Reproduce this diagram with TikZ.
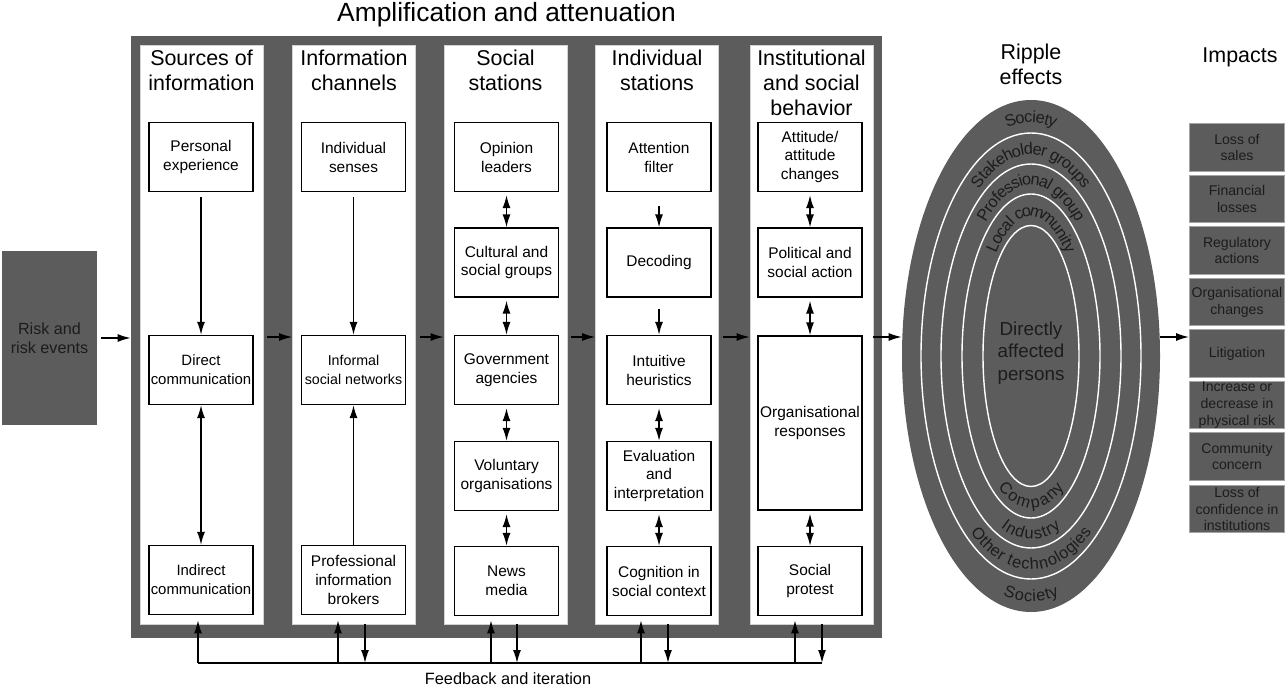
\documentclass[tikz,border=0pt]{standalone}
\usepackage{fontspec}
\setmainfont{Liberation Sans}
\usepackage{tikz}
\usetikzlibrary{arrows.meta,shapes.geometric,decorations.text}
\definecolor{ragray}{RGB}{92,92,92}
\definecolor{ratext}{RGB}{28,28,28}
\definecolor{raedge}{RGB}{165,165,165}
\tikzstyle{arrow} = [line width=0.8pt,-{Latex[length=2.6mm,width=1.6mm]}]
\tikzstyle{twoway} = [line width=0.8pt,{Latex[length=2.6mm,width=1.6mm]}-{Latex[length=2.6mm,width=1.6mm]}]
\newcommand{\ringfont}{\fontsize{9.3}{11}\selectfont}

\begin{document}
\begin{tikzpicture}[x=0.2mm, y=-0.2mm,
    column/.style={rectangle, fill=white, draw=gray!35, line width=0.4pt, minimum width=24.6mm, minimum height=115.8mm, inner sep=0pt},
    header/.style={anchor=north, align=center, inner sep=0pt, font=\fontsize{12.2}{14.2}\selectfont},
    stage/.style={rectangle, draw, fill=white, line width=0.75pt, minimum width=20.8mm, minimum height=13.8mm, inner sep=0pt, align=center, font=\fontsize{8.8}{10.8}\selectfont},
    impact/.style={rectangle, draw=raedge, fill=ragray, line width=0.5pt, minimum width=19mm, minimum height=9.5mm, inner sep=0pt, align=center, text=ratext, font=\fontsize{8}{9.6}\selectfont},
    ring/.style={white, line width=0.8pt},
    ringlabel/.style={decorate, decoration={text along path, text align=center, raise=-0.35em, text color=ratext}}]

\useasboundingbox (0,0) rectangle (1287,688);

% Title
\node[font=\fontsize{15}{18}\selectfont] (title) at (506.5,15) {Amplification and attenuation};

% Risk events
\node[rectangle, fill=ragray, minimum width=19mm, minimum height=34.8mm, align=center, text=ratext, font=\fontsize{9.2}{10.8}\selectfont] (risk) at (49.5,338) {Risk and\\risk events};

% Amplification frame and columns
\node[rectangle, fill=ragray, minimum width=150.2mm, minimum height=120.4mm, inner sep=0pt] (amp) at (506.5,337) {};
\node[column] (c1) at (201.5,334.5) {};
\node[column] (c2) at (354,334.5) {};
\node[column] (c3) at (505.5,334.5) {};
\node[column] (c4) at (657,334.5) {};
\node[column] (c5) at (811.5,334.5) {};

\node[header] (h1) at (201.5,50) {Sources of\\information};
\node[header] (h2) at (354,50) {Information\\channels};
\node[header] (h3) at (505.5,50) {Social\\stations};
\node[header] (h4) at (657,50) {Individual\\stations};
\node[header] (h5) at (811.5,50) {Institutional\\and social\\behavior};

% Sources of information
\node[stage] (pers) at (201,157) {Personal\\experience};
\node[stage, font=\fontsize{8.5}{10.8}\selectfont] (direct) at (201,370) {Direct\\communication};
\node[stage, font=\fontsize{8.5}{10.8}\selectfont] (indirect) at (201,580) {Indirect\\communication};

% Information channels
\node[stage] (senses) at (353.5,157) {Individual\\senses};
\node[stage, font=\fontsize{8.1}{10.8}\selectfont] (informal) at (353.5,370) {Informal\\social networks};
\node[stage] (brokers) at (353.5,580) {Professional\\information\\brokers};

% Social stations
\node[stage] (opinion) at (506.5,157) {Opinion\\leaders};
\node[stage] (cultural) at (506.5,262.5) {Cultural and\\social groups};
\node[stage] (govt) at (506.5,370) {Government\\agencies};
\node[stage] (voluntary) at (506.5,476) {Voluntary\\organisations};
\node[stage] (news) at (506.5,581) {News\\media};

% Individual stations
\node[stage] (attention) at (659,157) {Attention\\filter};
\node[stage] (decoding) at (659,262.5) {Decoding};
\node[stage] (intuitive) at (659,370) {Intuitive\\heuristics};
\node[stage] (evaluation) at (659,476) {Evaluation\\and\\interpretation};
\node[stage] (cognition) at (659,581) {Cognition in\\social context};

% Institutional and social behavior
\node[stage] (attitude) at (810,157) {Attitude/\\attitude\\changes};
\node[stage] (political) at (810,262.5) {Political and\\social action};
\node[stage, minimum height=34.8mm] (orgresp) at (810,423) {Organisational\\responses};
\node[stage] (protest) at (810,581) {Social\\protest};

% Ripple effects
\node[header] (ripplehead) at (1031,44) {Ripple\\effects};
\node[ellipse, fill=ragray, minimum width=51.6mm, minimum height=102.4mm, inner sep=0pt] (ripple) at (1031,356) {};
\draw[ring] (ripple.center) ellipse [x radius=22mm, y radius=44.6mm];
\draw[ring] (ripple.center) ellipse [x radius=18mm, y radius=38.4mm];
\draw[ring] (ripple.center) ellipse [x radius=13.8mm, y radius=32.4mm];
\draw[ring] (ripple.center) ellipse [x radius=9.6mm, y radius=26.1mm];
\node[align=center, text=ratext, font=\fontsize{10.7}{13}\selectfont] (affected) at (1031,353) {Directly\\affected\\persons};

\path[ringlabel, decoration={text={|\ringfont|Society}}] ([shift={(170:23.9mm and 47.9mm)}]ripple.center) arc[start angle=170, end angle=10, x radius=23.9mm, y radius=47.9mm];
\path[ringlabel, decoration={text={|\ringfont|Stakeholder groups}}] ([shift={(170:20mm and 41.5mm)}]ripple.center) arc[start angle=170, end angle=10, x radius=20mm, y radius=41.5mm];
\path[ringlabel, decoration={text={|\ringfont|Professional group}}] ([shift={(170:15.9mm and 35.4mm)}]ripple.center) arc[start angle=170, end angle=10, x radius=15.9mm, y radius=35.4mm];
\path[ringlabel, decoration={text={|\ringfont|Local community}}] ([shift={(175:11.7mm and 29.2mm)}]ripple.center) arc[start angle=175, end angle=5, x radius=11.7mm, y radius=29.2mm];
\path[ringlabel, decoration={text={|\ringfont|Company}}] ([shift={(190:11.7mm and 29.2mm)}]ripple.center) arc[start angle=190, end angle=350, x radius=11.7mm, y radius=29.2mm];
\path[ringlabel, decoration={text={|\ringfont|Industry}}] ([shift={(190:15.9mm and 35.4mm)}]ripple.center) arc[start angle=190, end angle=350, x radius=15.9mm, y radius=35.4mm];
\path[ringlabel, decoration={text={|\ringfont|Other technologies}}] ([shift={(190:20mm and 41.5mm)}]ripple.center) arc[start angle=190, end angle=350, x radius=20mm, y radius=41.5mm];
\path[ringlabel, decoration={text={|\ringfont|Society}}] ([shift={(190:23.9mm and 47.9mm)}]ripple.center) arc[start angle=190, end angle=350, x radius=23.9mm, y radius=47.9mm];

% Impacts
\node[header] (impacthead) at (1240,47) {Impacts};
\node[impact] (imp1) at (1237,147.5) {Loss of\\sales};
\node[impact] (imp2) at (1237,199) {Financial\\losses};
\node[impact] (imp3) at (1237,250.5) {Regulatory\\actions};
\node[impact] (imp4) at (1237,302) {Organisational\\changes};
\node[impact] (imp5) at (1237,353.5) {Litigation};
\node[impact] (imp6) at (1237,405) {Increase or\\decrease in\\physical risk};
\node[impact] (imp7) at (1237,456.5) {Community\\concern};
\node[impact] (imp8) at (1237,509) {Loss of\\confidence in\\institutions};

% Connections inside columns
\draw[arrow, shorten <=1mm] (pers) -- (direct);
\draw[twoway] (direct) -- (indirect);
\draw[arrow, shorten <=1mm] (senses) -- (informal);
\draw[arrow] (brokers) -- (informal);

\draw[twoway, shorten <=0.6mm] (opinion) -- (cultural);
\draw[twoway, shorten <=0.6mm] (cultural) -- (govt);
\draw[twoway, shorten <=0.6mm] (govt) -- (voluntary);
\draw[twoway, shorten <=0.6mm] (voluntary) -- (news);

\draw[arrow, shorten <=2.8mm] (attention) -- (decoding);
\draw[arrow, shorten <=2.2mm] (decoding) -- (intuitive);
\draw[twoway, shorten <=0.6mm] (intuitive) -- (evaluation);
\draw[twoway, shorten <=0.6mm] (evaluation) -- (cognition);

\draw[twoway, shorten <=0.6mm] (attitude) -- (political);
\draw[twoway, shorten <=0.6mm] (political) -- (orgresp);
\draw[twoway, shorten <=0.6mm] (orgresp) -- (protest);

% Flow from left to right
\draw[arrow, shorten <=0.8mm] (risk) -- (risk -| amp.west);
\draw[arrow, shorten <=0.8mm] (c1.east |- amp) -- (c2.west |- amp);
\draw[arrow, shorten <=0.8mm] (c2.east |- amp) -- (c3.west |- amp);
\draw[arrow, shorten <=0.8mm] (c3.east |- amp) -- (c4.west |- amp);
\draw[arrow, shorten <=0.8mm] (c4.east |- amp) -- (c5.west |- amp);
\draw[arrow] (c5.east |- amp) -- (ripple.west |- amp);
\draw[arrow] (ripple.east |- amp) -- (imp5.west |- amp);

% Feedback and iteration
\coordinate (fb1) at (198,663);
\coordinate (fb2) at (338,663);
\coordinate (fb2d) at (365,663);
\coordinate (fb3) at (491,663);
\coordinate (fb3d) at (517,663);
\coordinate (fb4) at (641,663);
\coordinate (fb4d) at (668,663);
\coordinate (fb5) at (795,663);
\coordinate (fb5d) at (822,663);
\draw[line width=0.8pt] (fb1) -- (fb5d);
\draw[arrow, shorten >=-0.8mm] (fb1) -- (fb1 |- c1.south);
\draw[arrow, shorten >=-0.8mm] (fb2) -- (fb2 |- c2.south);
\draw[arrow, shorten >=-0.8mm] (fb3) -- (fb3 |- c3.south);
\draw[arrow, shorten >=-0.8mm] (fb4) -- (fb4 |- c4.south);
\draw[arrow, shorten >=-0.8mm] (fb5) -- (fb5 |- c5.south);
\draw[arrow] (fb2d |- c2.south) -- (fb2d);
\draw[arrow] (fb3d |- c3.south) -- (fb3d);
\draw[arrow] (fb4d |- c4.south) -- (fb4d);
\draw[arrow] (fb5d |- c5.south) -- (fb5d);
\node[font=\fontsize{9.3}{11}\selectfont] (fblabel) at (508,679) {Feedback and iteration};
\end{tikzpicture}
\end{document}
